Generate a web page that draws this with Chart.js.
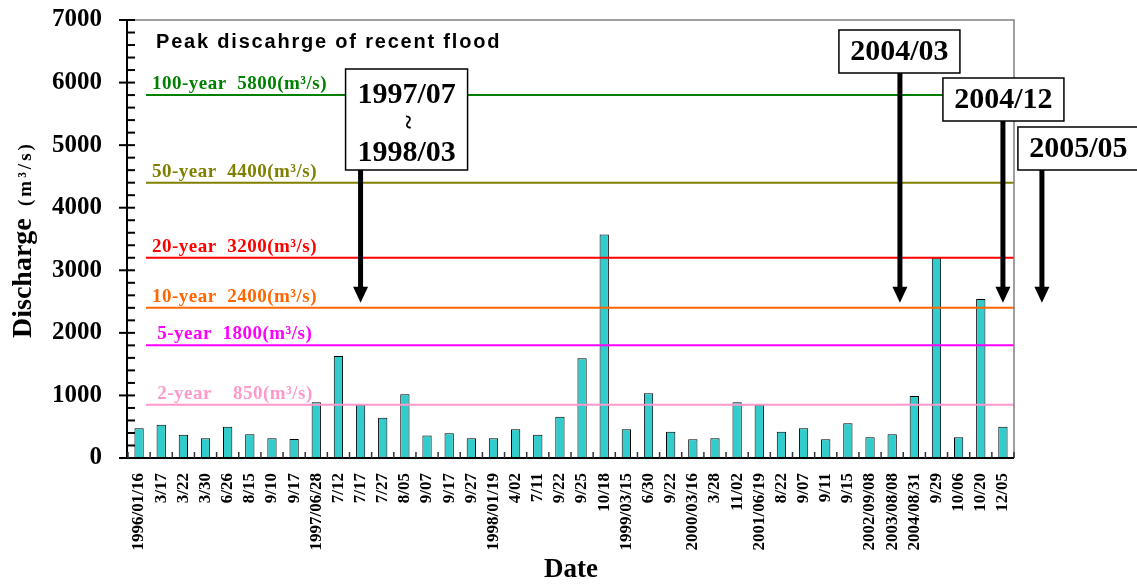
<!DOCTYPE html>
<html>
<head>
<meta charset="utf-8">
<script src="https://cdn.jsdelivr.net/npm/chart.js@4.4.1/dist/chart.umd.min.js"></script>
<style>
  html, body { margin: 0; padding: 0; background: #fff; }
  #wrap { width: 1137px; height: 586px; }
</style>
</head>
<body>
<div id="wrap"><canvas id="chart-canvas" width="1137" height="586"></canvas></div>
<script>
// flood events (x axis) and peak discharge in m3/s
const floodDates = [
  "1996/01/16", "3/17", "3/22", "3/30", "6/26", "8/15", "9/10", "9/17",
  "1997/06/28", "7/12", "7/17", "7/27", "8/05", "9/07", "9/17", "9/27",
  "1998/01/19", "4/02", "7/11", "9/22", "9/25", "10/18",
  "1999/03/15", "6/30", "9/22",
  "2000/03/16", "3/28", "11/02",
  "2001/06/19", "8/22", "9/07", "9/11", "9/15",
  "2002/09/08", "2003/08/08", "2004/08/31", "9/29", "10/06", "10/20", "12/05"
];
const peakDischarge = [
  475, 530, 370, 315, 500, 380, 315, 305,
  890, 1630, 850, 645, 1020, 360, 395, 315,
  315, 460, 370, 660, 1595, 3570,
  460, 1035, 420,
  300, 315, 890,
  850, 420, 475, 300, 555,
  330, 380, 990, 3200, 330, 2540, 500
];
const yTicks = [0, 1000, 2000, 3000, 4000, 5000, 6000, 7000];

// design floods
const returnPeriods = ["100-year", "50-year", "20-year", "10-year", "5-year", "2-year"];
const returnDischarge = [5800, 4400, 3200, 2400, 1800, 850];
const returnColors = ["#008000", "#808000", "#ff0000", "#ff6600", "#ff00ff", "#ff99cc"];

// event markers: text, position on the date axis, discharge at arrow tip
const markLabels = [["1997/07", "~", "1998/03"], ["2004/03"], ["2004/12"], ["2005/05"]];
const markAt = [10, 34.35, 39, 40.76];
const markTip = 2480;

// box geometry for the markers (pixels)
const markBoxes = [
  { dx: -15, top: 69, w: 122, h: 101 },
  { dx: -61, top: 30, w: 121, h: 43 },
  { dx: -60, top: 78, w: 121, h: 43 },
  { dx: -24, top: 127, w: 121, h: 43 }
];

const SERIF = "'Liberation Serif', 'Times New Roman', serif";

const floodDecor = {
  id: "floodDecor",
  afterDraw(chart) {
    const ctx = chart.ctx;
    const ca = chart.chartArea;
    const xs = chart.scales.x;
    const ys = chart.scales.y;
    ctx.save();

    // return period lines + labels
    returnDischarge.forEach((q, i) => {
      const y = ys.getPixelForValue(q);
      ctx.strokeStyle = returnColors[i];
      ctx.lineWidth = 2;
      ctx.beginPath();
      ctx.moveTo(ca.left + 18, y);
      ctx.lineTo(ca.right, y);
      ctx.stroke();

      let txt = (returnPeriods[i].length < 7 ? " " : "") + returnPeriods[i] + "  " +
        (q < 1000 ? "  " : "") + q + "(m\u00b3/s)";
      ctx.fillStyle = returnColors[i];
      ctx.font = "bold 19px " + SERIF;
      ctx.letterSpacing = "0.5px";
      ctx.textAlign = "left";
      ctx.textBaseline = "alphabetic";
      ctx.fillText(txt, ca.left + 24, y - 6);
    });

    // title inside plot
    ctx.fillStyle = "#000";
    ctx.font = "bold 20px 'Liberation Sans', Arial, sans-serif";
    ctx.letterSpacing = "1.8px";
    ctx.fillText("Peak discahrge of recent flood", ca.left + 28, ca.top + 28);
    ctx.letterSpacing = "0px";

    // grey frame top / right
    ctx.strokeStyle = "#808080";
    ctx.lineWidth = 1.5;
    ctx.beginPath();
    ctx.moveTo(ca.left, ca.top);
    ctx.lineTo(ca.right, ca.top);
    ctx.lineTo(ca.right, ca.bottom);
    ctx.stroke();

    // axes
    ctx.strokeStyle = "#000";
    ctx.lineWidth = 2;
    ctx.beginPath();
    ctx.moveTo(ca.left - 1, ca.top);
    ctx.lineTo(ca.left - 1, ca.bottom);
    ctx.moveTo(ca.left - 9, ca.bottom);
    ctx.lineTo(ca.right, ca.bottom);
    ctx.stroke();

    // y ticks, minor every 200
    for (let v = 0; v <= 7000; v += 200) {
      const y = ys.getPixelForValue(v);
      ctx.beginPath();
      ctx.moveTo(v % 1000 === 0 ? ca.left - 9 : ca.left - 1, y);
      ctx.lineTo(ca.left + 7, y);
      ctx.stroke();
    }
    // x ticks between categories
    ctx.lineWidth = 1.5;
    ctx.strokeStyle = "#333";
    for (let i = 0; i <= floodDates.length; i++) {
      const x = xs.getPixelForValue(i - 0.5);
      ctx.beginPath();
      ctx.moveTo(x, ca.bottom);
      ctx.lineTo(x, ca.bottom - 6);
      ctx.stroke();
    }

    // y axis title
    ctx.save();
    ctx.translate(31, 338);
    ctx.rotate(-Math.PI / 2);
    ctx.fillStyle = "#000";
    ctx.textAlign = "left";
    ctx.textBaseline = "alphabetic";
    ctx.font = "bold 28px " + SERIF;
    ctx.fillText("Discharge", 0, 0);
    ctx.font = "bold 19px " + SERIF;
    ctx.letterSpacing = "3px";
    ctx.fillText("(m\u00b3/s)", 132, 0);
    ctx.letterSpacing = "0px";
    ctx.restore();

    // event markers
    const tipY = ys.getPixelForValue(markTip);
    markLabels.forEach((lines, i) => {
      const ax = xs.getPixelForValue(markAt[i]);
      const b = markBoxes[i];
      const bx = ax + b.dx;
      ctx.fillStyle = "#fff";
      ctx.fillRect(bx, b.top, b.w, b.h);
      ctx.strokeStyle = "#000";
      ctx.lineWidth = 1.5;
      ctx.strokeRect(bx, b.top, b.w, b.h);

      ctx.fillStyle = "#000";
      ctx.font = "bold 30px " + SERIF;
      ctx.textAlign = "center";
      ctx.textBaseline = "middle";
      const cx = bx + b.w / 2;
      if (lines.length === 1) {
        ctx.fillText(lines[0], cx, b.top + b.h / 2 + 1);
      } else {
        ctx.fillText(lines[0], cx, b.top + 26.5);
        ctx.save();
        ctx.translate(cx, b.top + 53);
        ctx.rotate(Math.PI / 2);
        ctx.font = "bold 26px " + SERIF;
        ctx.fillText(lines[1], 0, 0);
        ctx.restore();
        ctx.fillText(lines[2], cx, b.top + 84);
      }

      // arrow
      const by = b.top + b.h;
      ctx.lineWidth = 5;
      ctx.beginPath();
      ctx.moveTo(ax, by);
      ctx.lineTo(ax, tipY - 14);
      ctx.stroke();
      ctx.beginPath();
      ctx.moveTo(ax - 7.5, tipY - 16);
      ctx.lineTo(ax + 7.5, tipY - 16);
      ctx.lineTo(ax, tipY);
      ctx.closePath();
      ctx.fill();
    });

    ctx.restore();
  }
};

const ctx = document.getElementById("chart-canvas").getContext("2d");
new Chart(ctx, {
  type: "bar",
  data: {
    labels: floodDates,
    datasets: [{
      label: "Peak discharge",
      data: peakDischarge,
      backgroundColor: "#33cccc",
      borderColor: "#000",
      borderWidth: 1,
      barPercentage: 0.42,
      categoryPercentage: 1
    }]
  },
  options: {
    responsive: false,
    animation: false,
    layout: { autoPadding: false, padding: { top: 20, right: 123, left: 0, bottom: 0 } },
    plugins: {
      legend: { display: false },
      tooltip: { enabled: false }
    },
    scales: {
      x: {
        grid: { display: false, drawTicks: false },
        border: { display: false },
        ticks: {
          autoSkip: false,
          maxRotation: 90,
          minRotation: 90,
          padding: 15,
          color: "#000",
          font: { family: SERIF, weight: "bold", size: 17 }
        },
        title: {
          display: true,
          text: "Date",
          color: "#000",
          font: { family: SERIF, weight: "bold", size: 27 },
          padding: { top: 0, bottom: 0 }
        },
        afterFit(s) {
          s.height = 128;
          s.paddingLeft = 0; s.paddingRight = 0;
        }
      },
      y: {
        min: 0,
        max: 7000,
        afterBuildTicks(s) { s.ticks = yTicks.map(v => ({ value: v })); },
        grid: { display: false, drawTicks: false },
        border: { display: false },
        ticks: {
          padding: 26,
          color: "#000",
          font: { family: SERIF, weight: "bold", size: 25 },
          callback: (v) => String(v)
        },
        afterFit(s) {
          s.width = 128;
          s.paddingTop = 0; s.paddingBottom = 0;
        }
      }
    }
  },
  plugins: [floodDecor]
});
</script>
</body>
</html>
